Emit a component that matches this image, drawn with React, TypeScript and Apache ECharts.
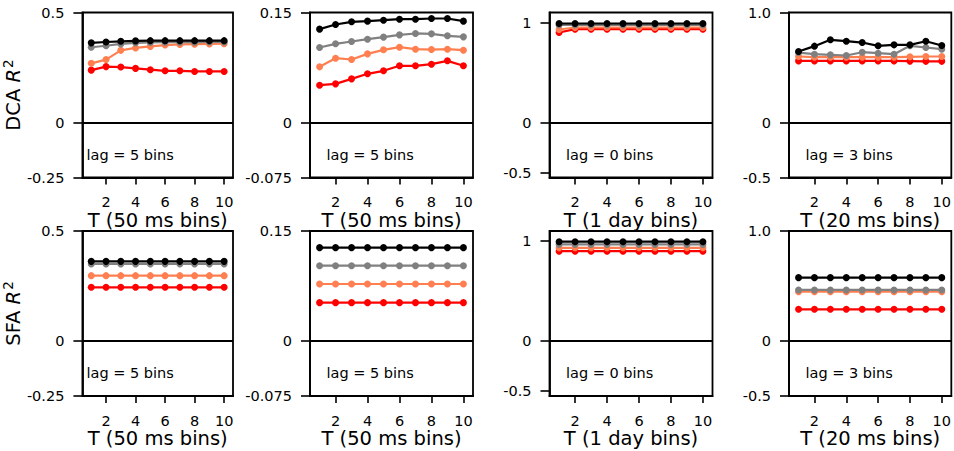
import React, { useEffect, useRef } from "react";
import * as echarts from "echarts";

const tValues = [1, 2, 3, 4, 5, 6, 7, 8, 9, 10];
const xTickValues = [2, 4, 6, 8, 10];
const xAxisNames = ["T (50 ms bins)", "T (50 ms bins)", "T (1 day bins)", "T (20 ms bins)"];
const lagLabels = ["lag = 5 bins", "lag = 5 bins", "lag = 0 bins", "lag = 3 bins"];
const rowNames = ["DCA", "SFA"];

const yMins = [-0.25, -0.075, -0.55, -0.5];
const yMaxs = [0.5, 0.15, 1.1, 1.0];
const yTickValues = [
  [-0.25, 0, 0.5],
  [-0.075, 0, 0.15],
  [-0.5, 0, 1],
  [-0.5, 0, 1.0],
];
const yTickLabels = [
  ["-0.25", "0", "0.5"],
  ["-0.075", "0", "0.15"],
  ["-0.5", "0", "1"],
  ["-0.5", "0", "1.0"],
];

// DCA row
const dca1Black = [0.362, 0.366, 0.369, 0.371, 0.372, 0.372, 0.372, 0.372, 0.372, 0.372];
const dca1Gray = [0.342, 0.349, 0.357, 0.362, 0.364, 0.365, 0.365, 0.365, 0.366, 0.366];
const dca1Coral = [0.269, 0.286, 0.328, 0.339, 0.346, 0.352, 0.355, 0.356, 0.357, 0.358];
const dca1Red = [0.238, 0.254, 0.252, 0.246, 0.24, 0.235, 0.235, 0.232, 0.232, 0.232];

const dca2Black = [0.1273, 0.1336, 0.1373, 0.1382, 0.1395, 0.1409, 0.1409, 0.1418, 0.1418, 0.1382];
const dca2Gray = [0.1023, 0.1073, 0.1105, 0.1136, 0.1164, 0.1195, 0.1214, 0.1209, 0.1182, 0.1168];
const dca2Coral = [0.0759, 0.0877, 0.0859, 0.0936, 0.0991, 0.1027, 0.1, 0.0995, 0.1, 0.0986];
const dca2Red = [0.0509, 0.0527, 0.0595, 0.0664, 0.0705, 0.0773, 0.0773, 0.0795, 0.0841, 0.0773];

const dca3Black = [0.99, 0.99, 0.99, 0.99, 0.99, 0.99, 0.99, 0.99, 0.99, 0.99];
const dca3Gray = [0.975, 0.975, 0.975, 0.975, 0.975, 0.975, 0.975, 0.975, 0.975, 0.975];
const dca3Coral = [0.93, 0.95, 0.95, 0.95, 0.95, 0.95, 0.95, 0.95, 0.95, 0.95];
const dca3Red = [0.9, 0.933, 0.933, 0.933, 0.933, 0.933, 0.933, 0.933, 0.933, 0.933];

const dca4Black = [0.645, 0.694, 0.752, 0.739, 0.727, 0.697, 0.706, 0.706, 0.739, 0.7];
const dca4Gray = [0.636, 0.621, 0.615, 0.609, 0.639, 0.63, 0.621, 0.697, 0.682, 0.667];
const dca4Coral = [0.6, 0.594, 0.594, 0.594, 0.594, 0.594, 0.594, 0.597, 0.6, 0.6];
const dca4Red = [0.56, 0.56, 0.56, 0.56, 0.56, 0.56, 0.56, 0.558, 0.556, 0.556];

// SFA row
const sfa1Black = [0.362, 0.362, 0.362, 0.362, 0.362, 0.362, 0.362, 0.362, 0.362, 0.362];
const sfa1Gray = [0.35, 0.35, 0.35, 0.35, 0.35, 0.35, 0.35, 0.35, 0.35, 0.35];
const sfa1Coral = [0.297, 0.297, 0.297, 0.297, 0.297, 0.297, 0.297, 0.297, 0.297, 0.297];
const sfa1Red = [0.244, 0.244, 0.244, 0.244, 0.244, 0.244, 0.244, 0.244, 0.244, 0.244];

const sfa2Black = [0.1273, 0.1273, 0.1273, 0.1273, 0.1273, 0.1273, 0.1273, 0.1273, 0.1273, 0.1273];
const sfa2Gray = [0.1027, 0.1027, 0.1027, 0.1027, 0.1027, 0.1027, 0.1027, 0.1027, 0.1027, 0.1027];
const sfa2Coral = [0.0777, 0.0777, 0.0777, 0.0777, 0.0777, 0.0777, 0.0777, 0.0777, 0.0777, 0.0777];
const sfa2Red = [0.0523, 0.0523, 0.0523, 0.0523, 0.0523, 0.0523, 0.0523, 0.0523, 0.0523, 0.0523];

const sfa3Black = [0.993, 0.993, 0.993, 0.993, 0.993, 0.993, 0.993, 0.993, 0.993, 0.993];
const sfa3Gray = [0.966, 0.966, 0.966, 0.966, 0.966, 0.966, 0.966, 0.966, 0.966, 0.966];
const sfa3Coral = [0.932, 0.932, 0.932, 0.932, 0.932, 0.932, 0.932, 0.932, 0.932, 0.932];
const sfa3Red = [0.898, 0.898, 0.898, 0.898, 0.898, 0.898, 0.898, 0.898, 0.898, 0.898];

const sfa4Black = [0.576, 0.576, 0.576, 0.576, 0.576, 0.576, 0.576, 0.576, 0.576, 0.576];
const sfa4Gray = [0.464, 0.464, 0.464, 0.464, 0.464, 0.464, 0.464, 0.464, 0.464, 0.464];
const sfa4Coral = [0.448, 0.448, 0.448, 0.448, 0.448, 0.448, 0.448, 0.448, 0.448, 0.448];
const sfa4Red = [0.288, 0.288, 0.288, 0.288, 0.288, 0.288, 0.288, 0.288, 0.288, 0.288];

const seriesColors = ["#FF0000", "#FF7F50", "#808080", "#000000"]; // red, coral, gray, black (draw order)

const panels = [
  [dca1Red, dca1Coral, dca1Gray, dca1Black],
  [dca2Red, dca2Coral, dca2Gray, dca2Black],
  [dca3Red, dca3Coral, dca3Gray, dca3Black],
  [dca4Red, dca4Coral, dca4Gray, dca4Black],
  [sfa1Red, sfa1Coral, sfa1Gray, sfa1Black],
  [sfa2Red, sfa2Coral, sfa2Gray, sfa2Black],
  [sfa3Red, sfa3Coral, sfa3Gray, sfa3Black],
  [sfa4Red, sfa4Coral, sfa4Gray, sfa4Black],
];

const FONT = "DejaVu Sans";
const colLefts = [70, 310, 549.5, 789];
const rowTops = [12.5, 231];
const gridW = 163;
const gridH = 165;

export default function App() {
  const ref = useRef<HTMLDivElement>(null);
  useEffect(() => {
    if (!ref.current) return;
    const chart = echarts.init(ref.current, null, { renderer: "svg" });
    const grids: any[] = [];
    const xAxes: any[] = [];
    const yAxes: any[] = [];
    const series: any[] = [];
    const graphics: any[] = [];
    for (let r = 0; r < 2; r++) {
      for (let c = 0; c < 4; c++) {
        const idx = r * 4 + c;
        grids.push({
          left: colLefts[c],
          top: rowTops[r],
          width: gridW,
          height: gridH,
          show: true,
          borderColor: "#000",
          borderWidth: 1.8,
          backgroundColor: "transparent",
        });
        xAxes.push({
          type: "value",
          gridIndex: idx,
          min: 0.4,
          max: 10.6,
          name: xAxisNames[c],
          nameLocation: "middle",
          nameGap: 30,
          nameTextStyle: { fontFamily: FONT, fontSize: 19.5, color: "#000" },
          axisLine: { show: true, onZero: false, lineStyle: { color: "#000", width: 1.8 } },
          axisTick: {
            show: true,
            length: 7,
            customValues: xTickValues,
            lineStyle: { color: "#000", width: 1.6 },
          },
          axisLabel: {
            show: true,
            customValues: xTickValues,
            margin: 17,
            fontFamily: FONT,
            fontSize: 14.5,
            color: "#000",
          },
          splitLine: { show: false },
        });
        const labels = yTickLabels[c];
        const vals = yTickValues[c];
        yAxes.push({
          type: "value",
          gridIndex: idx,
          min: yMins[c],
          max: yMaxs[c],
          name: c === 0 ? `{t|${rowNames[r]} }{i|R}{s|2}` : "",
          nameLocation: "middle",
          nameRotate: 90,
          nameGap: 34,
          nameTextStyle: {
            fontFamily: FONT,
            color: "#000",
            rich: {
              t: { fontFamily: FONT, fontSize: 19.5, color: "#000" },
              i: { fontFamily: FONT, fontSize: 19.5, fontStyle: "italic", color: "#000" },
              s: { fontFamily: FONT, fontSize: 13.5, color: "#000", verticalAlign: "top", padding: [0, 0, 10, 1] },
            },
          },
          axisLine: { show: true, onZero: false, lineStyle: { color: "#000", width: 1.8 } },
          axisTick: {
            show: true,
            length: 9,
            customValues: vals,
            lineStyle: { color: "#000", width: 1.6 },
          },
          axisLabel: {
            show: true,
            customValues: vals,
            margin: 18,
            fontFamily: FONT,
            fontSize: 14.5,
            color: "#000",
            formatter: (v: number) => {
              for (let k = 0; k < vals.length; k++) {
                if (Math.abs(vals[k] - v) < 1e-9) return labels[k];
              }
              return "";
            },
          },
          splitLine: { show: false },
        });
        const data = panels[idx];
        data.forEach((arr, s) => {
          const item: any = {
            type: "line",
            xAxisIndex: idx,
            yAxisIndex: idx,
            data: tValues.map((t, i) => [t, arr[i]]),
            symbol: "circle",
            symbolSize: 7,
            showSymbol: true,
            lineStyle: { color: seriesColors[s], width: 2.2 },
            itemStyle: { color: seriesColors[s] },
            silent: true,
            z: 3 + s,
          };
          if (s === 0) {
            item.markLine = {
              silent: true,
              symbol: ["none", "none"],
              label: { show: false },
              lineStyle: { color: "#000", width: 2, type: "solid" },
              data: [{ yAxis: 0 }],
              z: 2,
            };
          }
          series.push(item);
        });
        graphics.push({
          type: "text",
          left: colLefts[c] + 16.5,
          top: rowTops[r] + (r === 0 ? 135 : 134),
          style: {
            text: lagLabels[c],
            fontFamily: FONT,
            fontSize: 14.5,
            fill: "#000",
          },
        });
      }
    }
    chart.setOption({
      animation: false,
      backgroundColor: "#fff",
      grid: grids,
      xAxis: xAxes,
      yAxis: yAxes,
      series,
      graphic: graphics,
    });
    return () => chart.dispose();
  }, []);
  return (
    <div
      ref={ref}
      style={{ position: "absolute", left: 0, top: 0, width: 954, height: 451 }}
    />
  );
}
